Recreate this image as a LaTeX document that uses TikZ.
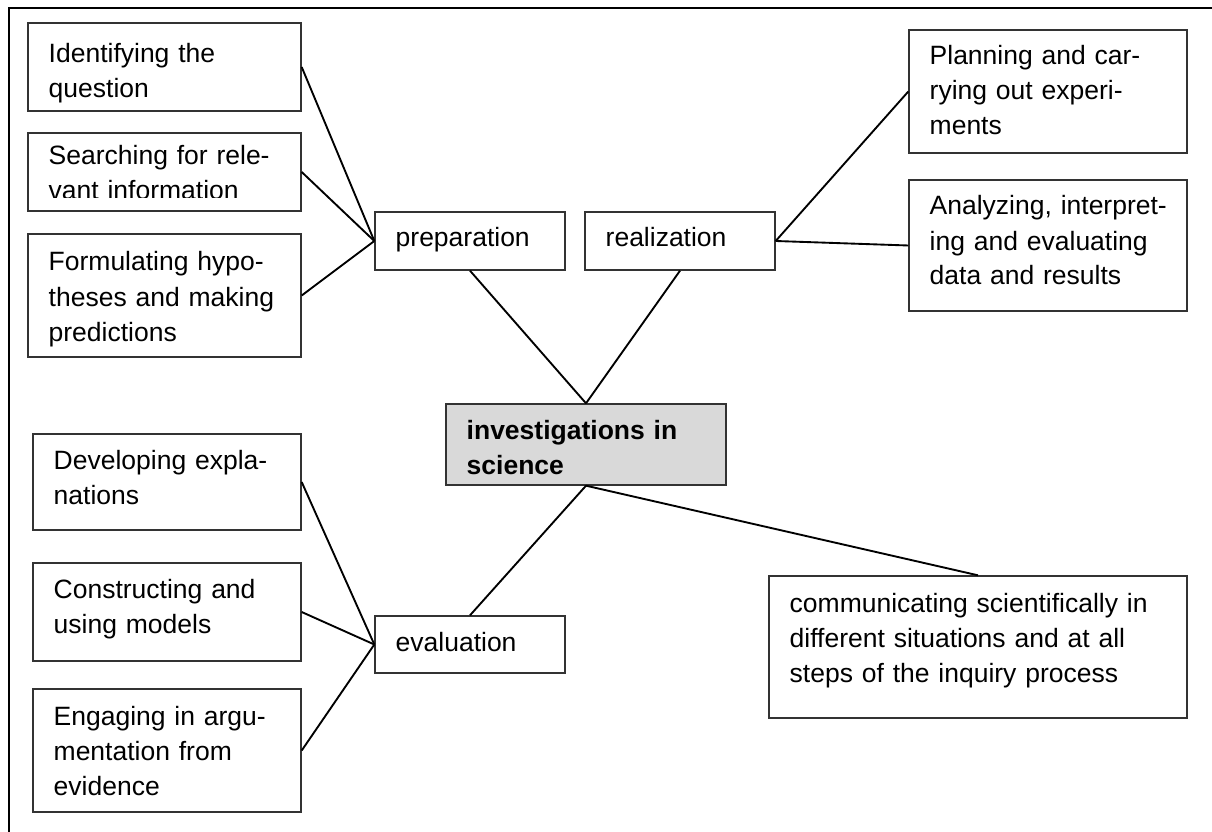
\documentclass[tikz,border=0pt]{standalone}
\usepackage{fontspec}
\setmainfont{Liberation Sans}
\usetikzlibrary{fit}
\newcommand\firstdrop{14pt}
\newcommand\textfloor{0pt}
\tikzset{
  box/.style={draw=black!80, line width=0.55pt, inner sep=0pt, rectangle},
  shade/.style={fill=black!15},
  drop/.code={\renewcommand\firstdrop{#1}},
  floor/.code={\renewcommand\textfloor{#1}},
  lbl/.style={anchor=base west, inner sep=0pt, text width=170pt, align=left,
              font=\fontsize{10.6}{14}\selectfont},
  txt/.style={path picture={
      \clip ([yshift=\textfloor]path picture bounding box.south west)
            rectangle (path picture bounding box.north east);
      \node[lbl] at ([xshift=8pt,yshift=-\firstdrop]path picture bounding box.north west) {#1};}},
  link/.style={line width=0.75pt, black},
  frame/.style={line width=1.1pt, black},
}
\begin{document}
\begin{tikzpicture}[x=0.4pt, y=-0.4pt]
\useasboundingbox (0,0) rectangle (1212,832);

% outer frame (only top and left edges fall inside the page)
\draw[frame] (1212,8) -- (9,8) -- (9,832);

% preparation branch
\node[box, fit={(28,23) (301,111)}, drop=16pt, txt={Identifying the\\question}] (ident) {};
\node[box, fit={(28,133) (301,211)}, drop=12.8pt, floor=5.2pt, txt={Searching for rele-\\vant information}] (search) {};
\node[box, fit={(28,234) (301,357)}, drop=14.8pt, txt={Formulating hypo-\\theses and making\\predictions}] (form) {};
\node[box, fit={(375,212) (565,270)}, txt={preparation}] (prep) {};

% realization branch
\node[box, fit={(585,212) (775,270)}, txt={realization}] (real) {};
\node[box, fit={(909,30) (1187,153)},  txt={Planning and car-\\rying out experi-\\ments}] (plan) {};
\node[box, fit={(909,180) (1187,311)}, txt={{Analyzing, interpret-\\ing and evaluating\\data and results}}] (anal) {};

% central topic
\node[box, shade, fit={(446,404) (726,485)}, txt={\bfseries investigations in\\science}] (ctr) {};

% evaluation branch
\node[box, fit={(33,434) (301,530)}, txt={Developing expla-\\nations}] (devel) {};
\node[box, fit={(33,563) (301,661)}, txt={Constructing and\\using models}] (cons) {};
\node[box, fit={(33,689) (301,812)}, drop=14.4pt, txt={Engaging in argu-\\mentation from\\evidence}] (engag) {};
\node[box, fit={(375,616) (565,673)}, txt={evaluation}] (eval) {};

% communication
\node[box, fit={(769,576) (1187,718)}, drop=14.4pt, txt={communicating scientifically in\\different situations and at all\\steps of the inquiry process}] (comm) {};

% connectors
\draw[link] (ident.east) -- (prep.west);
\draw[link] (search.east) -- (prep.west);
\draw[link] (form.east) -- (prep.west);
\draw[link] (prep.south) -- (ctr.north);
\draw[link] (real.south) -- (ctr.north);
\draw[link] (real.east) -- (plan.west);
\draw[link] (real.east) -- (anal.west);
\draw[link] (ctr.south) -- (eval.north);
\draw[link] (ctr.south) -- (comm.north);
\draw[link] (devel.east) -- (eval.west);
\draw[link] (cons.east) -- (eval.west);
\draw[link] (engag.east) -- (eval.west);
\end{tikzpicture}
\end{document}
